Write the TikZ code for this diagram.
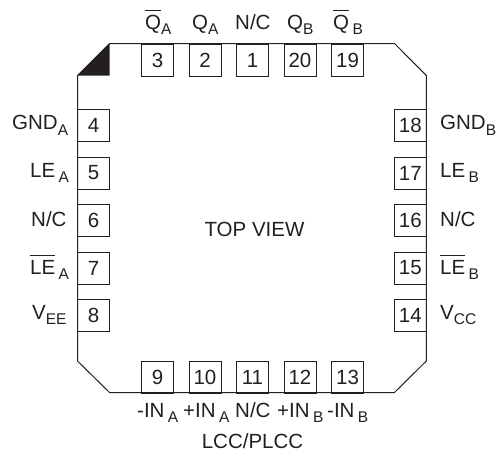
\documentclass[tikz,border=0pt]{standalone}
\usepackage{fontspec}
\setmainfont{Liberation Sans}
\definecolor{ink}{HTML}{231F20}
\newcommand{\lowsub}[1]{\raisebox{-5.5pt}{\fontsize{15.5}{15.5}\selectfont #1}}
\newcommand{\obar}[1]{\vbox{\hrule height .8pt \kern 4.2pt \hbox{#1}}}
\tikzset{
  x=1pt,y=-1pt,
  pinbox/.style={draw=ink,line width=1pt,minimum width=32pt,minimum height=32pt,inner sep=0pt,text=ink,font=\fontsize{20.5}{20.5}\selectfont},
  plabel/.style={anchor=base west,inner sep=0pt,text=ink,font=\fontsize{20.5}{20.5}\selectfont},
  body/.style={draw=ink,line width=1pt},
}
\begin{document}
\begin{tikzpicture}
\useasboundingbox (0,0) rectangle (498,453);
\coordinate (tl1) at (109.5,43.5);
\coordinate (tr1) at (394.5,43.5);
\coordinate (tr2) at (426.3,75.5);
\coordinate (br1) at (426.3,361);
\coordinate (br2) at (394.5,392.5);
\coordinate (bl1) at (109.5,392.5);
\coordinate (bl2) at (77.5,361);
\coordinate (tl2) at (77.5,75.5);
\coordinate (tlc) at (109.5,75.5);
\fill[ink] (tl1) -- (tlc) -- (tl2) -- cycle;
\draw[body] (tl1) -- (tr1) -- (tr2) -- (br1) -- (br2) -- (bl1) -- (bl2) -- (tl2) -- cycle;
% top pins
\node[pinbox] (p3) at (157.5,60) {3};
\node[pinbox] (p2) at (205,60) {2};
\node[pinbox] (p1) at (252.5,60) {1};
\node[pinbox] (p20) at (300,60) {20};
\node[pinbox] (p19) at (347.5,60) {19};
% left pins
\node[pinbox] (p4) at (93.5,125.5) {4};
\node[pinbox] (p5) at (93.5,173) {5};
\node[pinbox] (p6) at (93.5,220.5) {6};
\node[pinbox] (p7) at (93.5,268) {7};
\node[pinbox] (p8) at (93.5,315.5) {8};
% right pins
\node[pinbox] (p18) at (410.3,125.5) {18};
\node[pinbox] (p17) at (410.3,173) {17};
\node[pinbox] (p16) at (410.3,220.5) {16};
\node[pinbox] (p15) at (410.3,268) {15};
\node[pinbox] (p14) at (410.3,315.5) {14};
% bottom pins
\node[pinbox] (p9) at (157.5,377) {9};
\node[pinbox] (p10) at (205,377) {10};
\node[pinbox] (p11) at (252.5,377) {11};
\node[pinbox] (p12) at (300,377) {12};
\node[pinbox] (p13) at (347.5,377) {13};
% top labels
\node[plabel] (t3) at (145,29) {\obar{Q}\lowsub{A}};
\node[plabel] (t2) at (192,29) {Q\lowsub{A}};
\node[plabel] (t1) at (235,29) {N/C};
\node[plabel] (t20) at (287,29) {Q\lowsub{B}};
\node[plabel] (t19) at (333,29) {\obar{Q}\,\lowsub{B}};
% left labels
\node[plabel] (l4) at (12,129.5) {GND\lowsub{A}};
\node[plabel] (l5) at (30,177) {LE\,\lowsub{A}};
\node[plabel] (l6) at (31,226) {N/C};
\node[plabel] (l7) at (30,274) {\obar{LE}\,\lowsub{A}};
\node[plabel] (l8) at (32,319) {V\lowsub{EE}};
% right labels
\node[plabel] (r18) at (440,129.5) {GND\lowsub{B}};
\node[plabel] (r17) at (440,177) {LE\,\lowsub{B}};
\node[plabel] (r16) at (440,226) {N/C};
\node[plabel] (r15) at (440,274) {\obar{LE}\,\lowsub{B}};
\node[plabel] (r14) at (440,319) {V\lowsub{CC}};
% bottom labels
\node[plabel] (b9) at (137,417) {-IN\,\lowsub{A}};
\node[plabel] (b10) at (183,417) {+IN\,\lowsub{A}};
\node[plabel] (b11) at (235,417) {N/C};
\node[plabel] (b12) at (277,417) {+IN\,\lowsub{B}};
\node[plabel] (b13) at (327,417) {-IN\,\lowsub{B}};
\node[plabel,anchor=base] (pkg) at (252.5,448) {LCC/PLCC};
\node[plabel,anchor=base] (top) at (254.5,236) {TOP VIEW};
\end{tikzpicture}
\end{document}
